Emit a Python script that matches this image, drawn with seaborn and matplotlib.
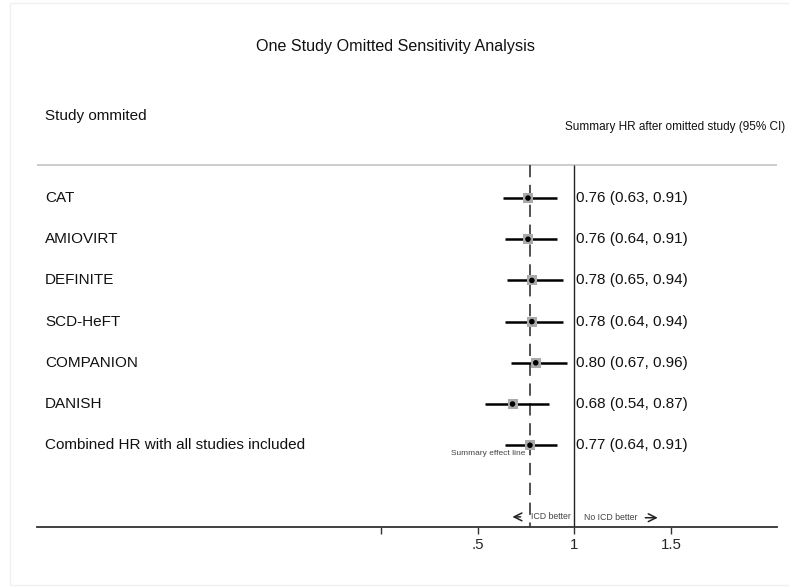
import numpy as np
import pandas as pd
import matplotlib
matplotlib.use("Agg")
import matplotlib.pyplot as plt
import matplotlib.transforms as mtransforms
from matplotlib.patches import Rectangle
import seaborn as sns

# ---- data ----
studies = ["CAT", "AMIOVIRT", "DEFINITE", "SCD-HeFT", "COMPANION", "DANISH",
           "Combined HR with all studies included"]
hr = [0.76, 0.76, 0.78, 0.78, 0.80, 0.68, 0.77]
ci_low = [0.63, 0.64, 0.65, 0.64, 0.67, 0.54, 0.64]
ci_high = [0.91, 0.91, 0.94, 0.94, 0.96, 0.87, 0.91]
summary_hr = 0.77
xtick_values = [0, 0.5, 1, 1.5]
xtick_labels = ["", ".5", "1", "1.5"]

df = pd.DataFrame({"study": studies, "hr": hr, "lo": ci_low, "hi": ci_high})
df["row"] = np.arange(len(df))
df["label"] = [f"{h:.2f} ({l:.2f}, {u:.2f})" for h, l, u in zip(df.hr, df.lo, df.hi)]

sns.set_theme(style="white")
plt.rcParams["font.family"] = ["Liberation Sans", "DejaVu Sans"]

W, H = 789, 587
fig = plt.figure(figsize=(W / 100, H / 100), dpi=100)
fx = lambda p: p / W
fy = lambda p: 1 - p / H

# faint frame
fig.patches.append(Rectangle((fx(10), fy(585)), 1, fy(3) - fy(585), transform=fig.transFigure,
                             fill=False, edgecolor="#f0f0f0", lw=1))

ax = fig.add_axes([fx(37), fy(527), fx(777) - fx(37), fy(0) - fy(527)])
ax.set_facecolor("none")
ax.set_xlim(-1.778, 2.047)
ax.set_ylim(7.985, -4.806)

# grey header separator
ax.axhline(-0.8, color="#c8c8c8", lw=1.3)
# null line and summary line
ax.vlines(1, -0.8, 7.985, color="#222222", lw=1.0)
ax.vlines(summary_hr, -0.8, 7.985, color="#222222", lw=1.1, linestyles=(0, (8, 5)))

# CIs
ax.hlines(df["row"], df["lo"], df["hi"], color="black", lw=1.8, zorder=3)
# grey weight boxes and point estimates
sns.scatterplot(data=df, x="hr", y="row", marker="s", s=52, color="#aaaaaa",
                edgecolor="none", ax=ax, zorder=4, legend=False)
sns.scatterplot(data=df, x="hr", y="row", marker="o", s=16, color="black",
                edgecolor="none", ax=ax, zorder=5, legend=False)

# axes styling
for side in ["top", "left", "right"]:
    ax.spines[side].set_visible(False)
ax.spines["bottom"].set_color("#333333")
ax.spines["bottom"].set_linewidth(1.3)
ax.set_xticks(xtick_values)
ax.set_xticklabels(xtick_labels)
ax.set_yticks([])
ax.set_xlabel("")
ax.set_ylabel("")
ax.tick_params(axis="x", direction="out", length=5, width=1, color="#333333",
               labelsize=10.8, pad=3, bottom=True)

# row labels and CI labels
blend = mtransforms.blended_transform_factory(fig.transFigure, ax.transData)
for _, r in df.iterrows():
    ax.text(fx(45), r["row"], r["study"], transform=blend, ha="left", va="center",
            fontsize=11, color="#111111")
    ax.text(1.006, r["row"], r["label"], ha="left", va="center", fontsize=11, color="#111111")

# headers
fig.text(fx(395), fy(46), "One Study Omitted Sensitivity Analysis", ha="center", va="center",
         fontsize=11.6, color="#111111")
fig.text(fx(45), fy(116), "Study ommited", ha="left", va="center", fontsize=11, color="#111111")
fig.text(fx(785), fy(127), "Summary HR after omitted study (95% CI)", ha="right", va="center",
         fontsize=8.5, color="#111111")

# annotations
last = df["row"].iloc[-1]
ax.text(summary_hr - 0.026, last + 0.21, "Summary effect line", ha="right", va="center",
        fontsize=6, color="#444444")
ax.text(summary_hr + 0.005, 7.74, "ICD better", ha="left", va="center", fontsize=6.3, color="#444444")
ax.text(1.049, 7.76, "No ICD better", ha="left", va="center", fontsize=6.3, color="#444444")
ax.annotate("", xy=(0.665, 7.74), xytext=(0.736, 7.74),
            arrowprops=dict(arrowstyle="->", lw=1.1, color="#222222", mutation_scale=14))
ax.annotate("", xy=(1.445, 7.76), xytext=(1.352, 7.76),
            arrowprops=dict(arrowstyle="->", lw=1.1, color="#222222", mutation_scale=14))

fig.savefig("out.png", dpi=100)
